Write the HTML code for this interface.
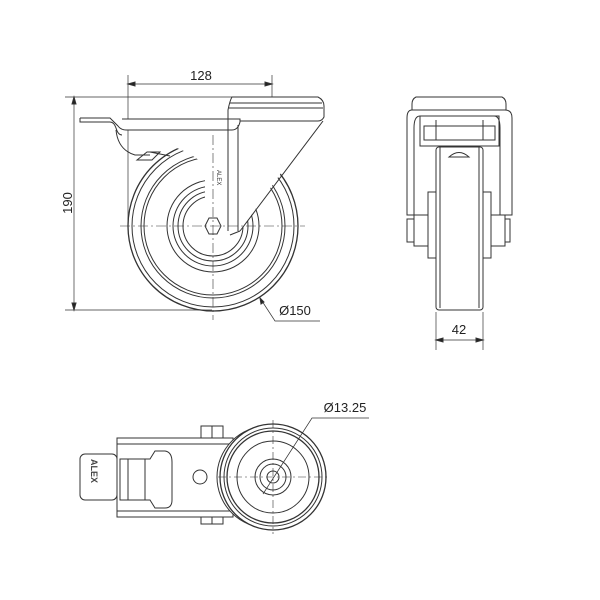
<!DOCTYPE html>
<html><head><style>html,body{margin:0;padding:0;background:#fff}svg{display:block}</style></head><body>
<svg width="600" height="600" viewBox="0 0 600 600" xmlns="http://www.w3.org/2000/svg" font-family="'Liberation Sans','DejaVu Sans',sans-serif" fill="none" stroke="#333" stroke-width="1">
<!-- ===== SIDE VIEW ===== -->
<line x1="128" y1="75" x2="128" y2="226" stroke-width="0.7"/>
<line x1="272" y1="75" x2="272" y2="112" stroke-width="0.7"/>
<line x1="128" y1="84" x2="272" y2="84" stroke-width="0.7"/>
<path d="M128 84 l7 -2 v4z M272 84 l-7 -2 v4z" fill="#222"/>
<text x="201" y="80" font-size="13" fill="#222" stroke="none" text-anchor="middle">128</text>
<line x1="65" y1="97" x2="232" y2="97" stroke-width="0.7"/>
<line x1="65" y1="310" x2="212" y2="310" stroke-width="0.7"/>
<line x1="74" y1="97" x2="74" y2="310" stroke-width="0.7"/>
<path d="M74 97 l-2 7 h4z M74 310 l-2 -7 h4z" fill="#222"/>
<text transform="translate(72,203) rotate(-90)" font-size="13" fill="#222" stroke="none" text-anchor="middle">190</text>
<circle cx="213" cy="226" r="85" stroke-width="1.3"/>
<circle cx="213" cy="226" r="81"/>
<circle cx="213" cy="226" r="72"/>
<circle cx="213" cy="226" r="69"/>
<circle cx="213" cy="226" r="46"/>
<circle cx="213" cy="226" r="40"/>
<circle cx="213" cy="226" r="35"/>
<circle cx="213" cy="226" r="30"/>
<path d="M228 119 L325 119 L325 111 L240 231 L205 231 L205 129 Z" fill="#fff" stroke="none"/>
<path d="M165 145 Q185 148 205 165 L205 129 L165 129 Z" fill="#fff" stroke="none"/>
<path d="M232 97 H318 Q324 100 324 106 V117 Q322 121 318 121 H228 V110 Q230 100 232 97 Z" fill="#fff"/>
<line x1="230" y1="103" x2="322" y2="103"/>
<line x1="229" y1="108" x2="323" y2="108"/>
<path d="M80 118 H110 L118 126 Q121 130 126 130 H232 Q238 130 240 122 V119 L236 119 H122" fill="#fff"/>
<path d="M80 118 V122 H110 Q114 122 116 128 Q118 135 122 135"/>
<path d="M116 130 Q118 150 135 155 H150"/>
<path d="M137 160 L147 152 H160 L152 160 Z"/>
<line x1="150" y1="152" x2="170" y2="156"/>
<path d="M228 119 V231 M238 125 V231 M323 121 L240 231"/>
<path d="M240 231 L230 235"/>
<path d="M205 226 L209 218 H217 L221 226 L217 234 H209 Z" fill="#fff"/>
<text transform="translate(217,170) rotate(90)" font-size="6" fill="#333" stroke="none">ALEX</text>
<line x1="120" y1="226" x2="305" y2="226" stroke-width="0.6" stroke-dasharray="10 3 2 3"/>
<line x1="213" y1="135" x2="213" y2="320" stroke-width="0.6" stroke-dasharray="10 3 2 3"/>
<path d="M260 298 L275 321 H320" stroke-width="0.7"/>
<path d="M260 298 l1 6 l3 -2z" fill="#222"/>
<text x="295" y="315" font-size="13" fill="#222" stroke="none" text-anchor="middle">Ø150</text>

<!-- ===== FRONT VIEW ===== -->
<path d="M416 97 H502 Q506 99 506 104 V110 H412 V104 Q412 99 416 97 Z"/>
<path d="M412 110 Q407 110 407 118 V215 H414 V128 Q414 116 420 116 H494 Q500 116 500 128 V215 H512 V118 Q512 110 505 110 Z"/>
<rect x="420" y="116" width="79" height="30"/>
<rect x="424" y="126" width="71" height="14"/>
<line x1="436" y1="120" x2="436" y2="140"/><line x1="483" y1="120" x2="483" y2="140"/>
<rect x="436" y="147" width="47" height="163" rx="3"/>
<line x1="440" y1="147" x2="440" y2="308"/><line x1="479" y1="147" x2="479" y2="308"/>
<path d="M449 157 Q459 148 469 157 H449 Z"/>
<rect x="428" y="192" width="8" height="66"/>
<rect x="483" y="192" width="8" height="66"/>
<rect x="414" y="215" width="14" height="31"/>
<rect x="491" y="215" width="14" height="31"/>
<rect x="407" y="219" width="7" height="23"/>
<rect x="505" y="219" width="5" height="23"/>
<line x1="436" y1="312" x2="436" y2="350" stroke-width="0.7"/>
<line x1="483" y1="312" x2="483" y2="350" stroke-width="0.7"/>
<line x1="436" y1="340" x2="483" y2="340" stroke-width="0.7"/>
<path d="M436 340 l7 -2 v4z M483 340 l-7 -2 v4z" fill="#222"/>
<text x="459" y="334" font-size="13" fill="#222" stroke="none" text-anchor="middle">42</text>

<!-- ===== TOP VIEW ===== -->
<rect x="201" y="426" width="22" height="12"/>
<rect x="201" y="517" width="22" height="7"/>
<line x1="212" y1="426" x2="212" y2="438"/><line x1="212" y1="517" x2="212" y2="524"/>
<rect x="117" y="438" width="116" height="79" fill="#fff"/>
<line x1="117" y1="444" x2="233" y2="444"/><line x1="117" y1="511" x2="233" y2="511"/>
<rect x="80" y="454" width="37" height="46" rx="5"/>
<text transform="translate(91,459) rotate(90)" font-size="9" font-weight="bold" fill="#444" stroke="none">ALEX</text>
<path d="M120 459 H150 L155 451 H165 Q172 452 172 462 V500 Q172 508 165 508 H155 L150 500 H120 Z"/>
<line x1="128" y1="459" x2="128" y2="500"/><line x1="145" y1="459" x2="145" y2="500"/>
<circle cx="200" cy="477" r="7"/>
<circle cx="268" cy="477" r="51" fill="#fff"/>
<circle cx="273" cy="477" r="53" fill="#fff" stroke-width="1.3"/>
<circle cx="273" cy="477" r="49"/>
<circle cx="273" cy="477" r="46" stroke-width="1.3"/>
<circle cx="273" cy="477" r="36"/>
<circle cx="273" cy="477" r="18"/>
<circle cx="273" cy="477" r="13"/>
<circle cx="273" cy="477" r="6"/>
<line x1="218" y1="477" x2="328" y2="477" stroke-width="0.6" stroke-dasharray="8 3 2 3"/>
<line x1="273" y1="420" x2="273" y2="534" stroke-width="0.6" stroke-dasharray="8 3 2 3"/>
<path d="M263 494 L312 418 H369" stroke-width="0.7"/>
<text x="345" y="412" font-size="13" fill="#222" stroke="none" text-anchor="middle">Ø13.25</text>
</svg>
</body></html>
